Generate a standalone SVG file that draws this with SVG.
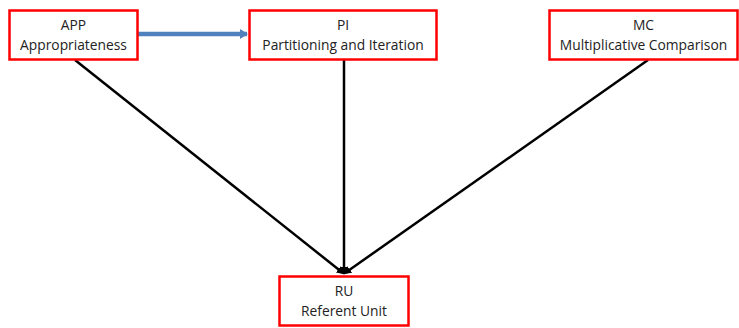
<svg xmlns="http://www.w3.org/2000/svg" width="739" height="328" viewBox="0 0 739 328">
  <style>
    .box { fill: #ffffff; stroke: #ff0000; stroke-width: 2.5; }
    .label { font-family: "Open Sans", "Liberation Sans", sans-serif; font-size: 13.8px; fill: #222222; text-anchor: middle; }
    .edge { stroke: #000000; stroke-width: 2.5; fill: none; }
    .flow { stroke: #4f81bd; stroke-width: 4.5; fill: none; }
  </style>
  <defs>
    <marker id="blackHead" markerWidth="8" markerHeight="8" refX="6" refY="4" orient="auto" markerUnits="userSpaceOnUse">
      <path d="M0,0 L8,4 L0,8 z" fill="#000000"/>
    </marker>
    <marker id="blueHead" markerWidth="8" markerHeight="10" refX="7" refY="5" orient="auto" markerUnits="userSpaceOnUse">
      <path d="M0,0 L8,5 L0,10 z" fill="#4f81bd"/>
    </marker>
  </defs>

  <g id="connectors">
    <line class="flow" x1="138" y1="34" x2="247" y2="34" marker-end="url(#blueHead)"/>
    <line class="edge" x1="75" y1="60" x2="343" y2="273" marker-end="url(#blackHead)"/>
    <line class="edge" x1="344" y1="60" x2="344" y2="273" marker-end="url(#blackHead)"/>
    <line class="edge" x1="648" y1="60" x2="345" y2="273" marker-end="url(#blackHead)"/>
  </g>

  <g id="node-app">
    <rect class="box" x="9.5" y="10.5" width="128" height="49"/>
    <text class="label" x="73.5" y="30">APP</text>
    <text class="label" x="73.5" y="50">Appropriateness</text>
  </g>

  <g id="node-pi">
    <rect class="box" x="249.5" y="10.5" width="187" height="49"/>
    <text class="label" x="343" y="30">PI</text>
    <text class="label" x="343" y="50">Partitioning and Iteration</text>
  </g>

  <g id="node-mc">
    <rect class="box" x="549.5" y="10.5" width="188" height="49"/>
    <text class="label" x="643.5" y="30">MC</text>
    <text class="label" x="643.5" y="50">Multiplicative Comparison</text>
  </g>

  <g id="node-ru">
    <rect class="box" x="279.5" y="276.5" width="129" height="49"/>
    <text class="label" x="344" y="296">RU</text>
    <text class="label" x="344" y="316">Referent Unit</text>
  </g>
</svg>
